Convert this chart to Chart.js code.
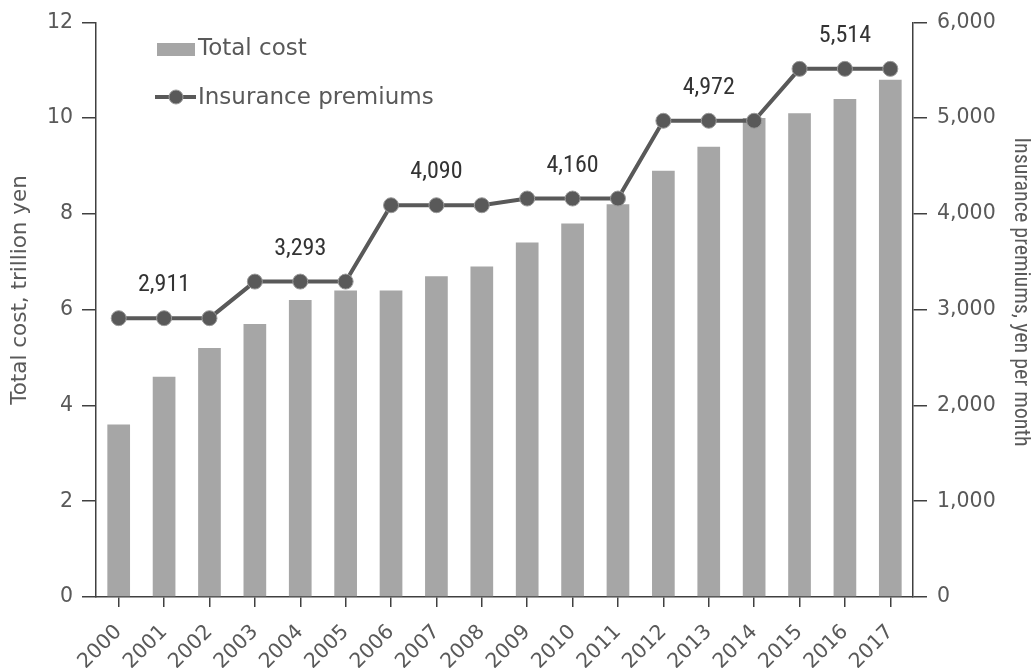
<!DOCTYPE html>
<html>
<head>
<meta charset="utf-8">
<script src="https://cdn.jsdelivr.net/npm/chart.js@4/dist/chart.umd.min.js"></script>
<style>
html,body{margin:0;padding:0;background:#fff;}
#wrap{position:relative;width:1035px;height:668px;}
</style>
</head>
<body>
<div id="wrap"><canvas id="c" width="1035" height="668"></canvas></div>
<script>
const years = ['2000','2001','2002','2003','2004','2005','2006','2007','2008','2009','2010','2011','2012','2013','2014','2015','2016','2017'];
const totalCost = [3.6,4.6,5.2,5.7,6.2,6.4,6.4,6.7,6.9,7.4,7.8,8.2,8.9,9.4,10.0,10.1,10.4,10.8];
const premiums = [2911,2911,2911,3293,3293,3293,4090,4090,4090,4160,4160,4160,4972,4972,4972,5514,5514,5514];
const labelIndexes = [1,4,7,10,13,16];
const leftTicks = [0,2,4,6,8,10,12];
const rightTicks = [0,1000,2000,3000,4000,5000,6000];
const seriesNames = ['Total cost','Insurance premiums'];
const axisTitles = ['Total cost, trillion yen','Insurance premiums, yen per month'];

const BAR = '#a6a6a6', LINE = '#595959', AXIS = '#404040', TXT = '#595959';
const VERD = "'DejaVu Sans', Verdana, sans-serif";
const NARROW = "'Liberation Sans Narrow', 'Arial Narrow', 'Roboto Condensed', Roboto, sans-serif";

const extras = {
  id: 'extras',
  afterDatasetsDraw(chart) {
    const ctx = chart.ctx;
    const meta = chart.getDatasetMeta(0);
    ctx.save();
    ctx.font = "24px " + NARROW;
    ctx.fillStyle = '#333333';
    ctx.textAlign = 'center';
    ctx.textBaseline = 'middle';
    labelIndexes.forEach(i => {
      const p = meta.data[i];
      ctx.fillText(premiums[i].toLocaleString('en-US'), p.x, p.y - 33);
    });
    // legend
    ctx.fillStyle = BAR;
    ctx.fillRect(157, 43, 38, 13);
    ctx.strokeStyle = LINE; ctx.lineWidth = 4;
    ctx.beginPath(); ctx.moveTo(155, 97); ctx.lineTo(196, 97); ctx.stroke();
    ctx.beginPath(); ctx.arc(176, 97, 7, 0, Math.PI*2);
    ctx.fillStyle = LINE; ctx.fill();
    ctx.lineWidth = 1; ctx.strokeStyle = '#9a9a9a'; ctx.stroke();
    ctx.font = "23px " + VERD;
    ctx.fillStyle = TXT;
    ctx.textAlign = 'left';
    ctx.fillText(seriesNames[0], 198, 49);
    ctx.fillText(seriesNames[1], 198, 98);
    // axis titles
    ctx.textAlign = 'center';
    ctx.save();
    ctx.translate(20, 290);
    ctx.rotate(-Math.PI/2);
    ctx.font = "21.5px " + VERD;
    ctx.fillText(axisTitles[0], 0, 0);
    ctx.restore();
    ctx.save();
    ctx.translate(1020, 292);
    ctx.rotate(Math.PI/2);
    ctx.font = "22px " + NARROW;
    ctx.fillText(axisTitles[1], 0, 0);
    ctx.restore();
    ctx.restore();
  }
};

new Chart(document.getElementById('c'), {
  data: {
    labels: years,
    datasets: [
      {
        type: 'line', label: seriesNames[1], data: premiums, yAxisID: 'y1',
        borderColor: LINE, borderWidth: 4, backgroundColor: LINE,
        pointRadius: 7.5, pointBackgroundColor: LINE, pointBorderColor: '#9a9a9a', pointBorderWidth: 1,
        tension: 0, order: 0
      },
      {
        type: 'bar', label: seriesNames[0], data: totalCost, yAxisID: 'y',
        backgroundColor: BAR, barPercentage: 0.5, categoryPercentage: 1.0, order: 1
      }
    ]
  },
  options: {
    responsive: false, animation: false,
    layout: { padding: { top: 21, right: 0, left: 0, bottom: 0 } },
    plugins: { legend: { display: false }, tooltip: { enabled: false } },
    scales: {
      x: {
        type: 'category', offset: true,
        grid: { offset: false, drawOnChartArea: false, tickLength: 10, color: AXIS, lineWidth: 1.5 },
        border: { color: AXIS, width: 1.5 },
        ticks: { minRotation: 45, maxRotation: 45, padding: 13, color: TXT, font: { family: VERD, size: 20.5 } },
        afterFit(s) { s.height = 71; }
      },
      y: {
        position: 'left', min: 0, max: 12,
        afterBuildTicks(s) { s.ticks = leftTicks.map(v => ({ value: v })); },
        grid: { drawOnChartArea: false, tickLength: 14, color: AXIS, lineWidth: 1.5 },
        border: { color: AXIS, width: 1.5 },
        ticks: { padding: 9, color: TXT, font: { family: VERD, size: 20.5 } },
        afterFit(s) { s.width = 96; }
      },
      y1: {
        position: 'right', min: 0, max: 6000,
        afterBuildTicks(s) { s.ticks = rightTicks.map(v => ({ value: v })); },
        grid: { drawOnChartArea: false, tickLength: 14, color: AXIS, lineWidth: 1.5 },
        border: { color: AXIS, width: 1.5 },
        ticks: { padding: 10, color: TXT, font: { family: VERD, size: 20.5 }, callback: v => v.toLocaleString('en-US') },
        afterFit(s) { s.width = 122; }
      }
    }
  },
  plugins: [extras]
});
</script>
</body>
</html>
